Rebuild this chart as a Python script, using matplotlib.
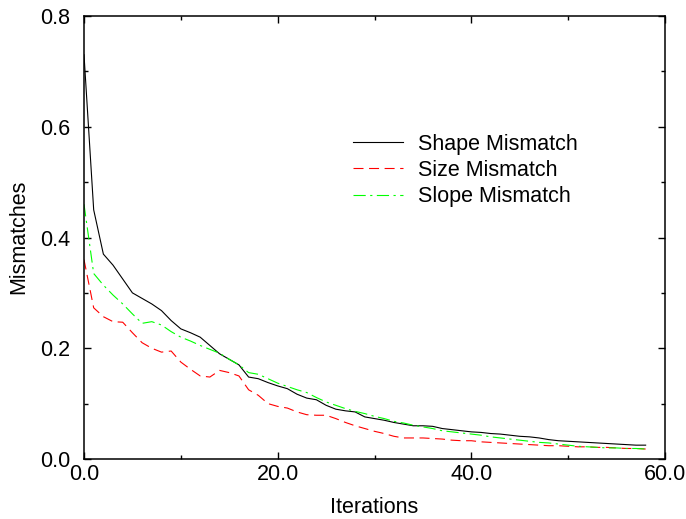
import matplotlib
matplotlib.use("Agg")
import matplotlib.pyplot as plt
from matplotlib.ticker import MultipleLocator, FormatStrFormatter

plt.rcParams.update({
    "font.family": ["Liberation Sans", "DejaVu Sans"],
    "font.size": 15.5,
})

# ---- data ----
iterations = list(range(0, 59))

shape_mismatch = [
    0.73, 0.45, 0.37, 0.35, 0.325, 0.30, 0.29, 0.28, 0.268, 0.25,
    0.235, 0.228, 0.22, 0.205, 0.19, 0.18, 0.17, 0.148, 0.145, 0.138,
    0.132, 0.127, 0.117, 0.11, 0.107, 0.097, 0.09, 0.087, 0.085, 0.076,
    0.073, 0.07, 0.066, 0.063, 0.06, 0.06, 0.059, 0.055, 0.053, 0.051,
    0.049, 0.048, 0.046, 0.045, 0.043, 0.041, 0.04, 0.038, 0.035, 0.033,
    0.032, 0.031, 0.030, 0.029, 0.028, 0.027, 0.026, 0.025, 0.025,
]

size_mismatch = [
    0.36, 0.273, 0.257, 0.248, 0.247, 0.228, 0.21, 0.2, 0.193, 0.195,
    0.175, 0.162, 0.15, 0.148, 0.16, 0.156, 0.15, 0.125, 0.115, 0.1,
    0.095, 0.092, 0.085, 0.08, 0.079, 0.079, 0.073, 0.066, 0.06, 0.055,
    0.05, 0.046, 0.041, 0.038, 0.038, 0.038, 0.037, 0.036, 0.034, 0.033,
    0.033, 0.031, 0.03, 0.029, 0.028, 0.027, 0.026, 0.025, 0.024, 0.024,
    0.023, 0.022, 0.022, 0.021, 0.021, 0.020, 0.019, 0.019, 0.018,
]

slope_mismatch = [
    0.46, 0.335, 0.314, 0.296, 0.28, 0.262, 0.245, 0.248, 0.242, 0.23,
    0.22, 0.213, 0.205, 0.198, 0.191, 0.18, 0.17, 0.156, 0.153, 0.145,
    0.137, 0.131, 0.125, 0.12, 0.111, 0.103, 0.097, 0.091, 0.086, 0.082,
    0.077, 0.073, 0.068, 0.065, 0.061, 0.058, 0.055, 0.051, 0.049, 0.047,
    0.045, 0.043, 0.04, 0.038, 0.036, 0.034, 0.032, 0.03, 0.029, 0.027,
    0.025, 0.023, 0.022, 0.021, 0.02, 0.02, 0.019, 0.019, 0.018,
]

# ---- figure ----
W, H = 686, 519
fig = plt.figure(figsize=(W / 100, H / 100), dpi=100)
ax = fig.add_axes([84 / W, 60 / H, 581 / W, 443 / H])

ax.plot(iterations, shape_mismatch, "-", color="black", linewidth=0.8,
        label="Shape Mismatch")
ax.plot(iterations, size_mismatch, color="#ff0000", linewidth=0.8,
        dashes=(9, 5), label="Size Mismatch")
ax.plot(iterations, slope_mismatch, color="#00ff00", linewidth=0.8,
        dashes=(11, 4, 2, 4), label="Slope Mismatch")

ax.set_xlim(0, 60)
ax.set_ylim(0, 0.8)
ax.xaxis.set_major_locator(MultipleLocator(20))
ax.xaxis.set_minor_locator(MultipleLocator(10))
ax.yaxis.set_major_locator(MultipleLocator(0.2))
ax.yaxis.set_minor_locator(MultipleLocator(0.1))
ax.xaxis.set_major_formatter(FormatStrFormatter("%.1f"))
ax.yaxis.set_major_formatter(FormatStrFormatter("%.1f"))

ax.tick_params(which="both", direction="in", top=True, right=True,
               labelsize=15.5, width=1)
ax.tick_params(which="major", length=5)
ax.tick_params(which="minor", length=3)
ax.tick_params(axis="x", which="major", pad=3.5)
ax.tick_params(axis="y", which="major", pad=10)
for s in ax.spines.values():
    s.set_linewidth(1.1)

fig.text(374 / W, (H - 513) / H, "Iterations", ha="center", va="baseline",
         fontsize=15.5)
fig.text(18.5 / W, (H - 237) / H, "Mismatches", rotation=90,
         ha="center", va="center", fontsize=15.5)

ax.legend(loc="upper left", bbox_to_anchor=(0.463, 0.734), frameon=False,
          fontsize=15.5, handlelength=2.33, handletextpad=0.7,
          labelspacing=0.24, borderaxespad=0, borderpad=0)

fig.savefig("out.png", dpi=100)
